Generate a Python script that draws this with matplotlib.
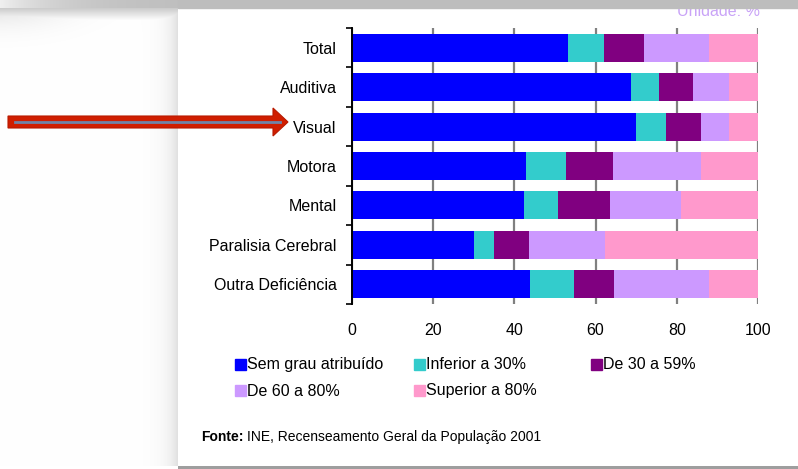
import numpy as np
import matplotlib
matplotlib.use("Agg")
import matplotlib.pyplot as plt
from matplotlib.patches import Rectangle, Polygon

plt.rcParams['font.family'] = ['Liberation Sans', 'DejaVu Sans']

categories = ["Total", "Auditiva", "Visual", "Motora", "Mental",
              "Paralisia Cerebral", "Outra Deficiência"]
series_names = ["Sem grau atribuído", "Inferior a 30%", "De 30 a 59%",
                "De 60 a 80%", "Superior a 80%"]
sem_grau = [53.3, 68.6, 70.0, 42.9, 42.4, 30.1, 43.9]
inferior_30 = [8.8, 6.9, 7.4, 9.9, 8.4, 4.9, 10.9]
de_30_59 = [9.9, 8.4, 8.5, 11.4, 12.8, 8.5, 9.8]
de_60_80 = [15.9, 9.0, 7.0, 21.7, 17.4, 18.7, 23.3]
superior_80 = [12.1, 7.1, 7.1, 14.1, 19.0, 37.8, 12.1]
colors = ["#0000ff", "#33cccc", "#800080", "#cc99ff", "#ff99cc"]
xticks = [0, 20, 40, 60, 80, 100]

W, H = 798, 469
fig = plt.figure(figsize=(W / 100, H / 100), dpi=100)

# background: screenshot frame (pixel coordinates)
bg = fig.add_axes([0, 0, 1, 1], zorder=0)
bg.set_xlim(0, W)
bg.set_ylim(H, 0)
bg.axis("off")
xx, yy = np.meshgrid(np.arange(W), np.arange(H))
img = np.ones((H, W))
left = xx < 178
img[left] = 1 - 0.13 * np.exp(-(178 - xx[left]) / 10.0)
corner = np.exp(-((xx / 70.0) ** 2 + ((yy + 10) / 30.0) ** 2))
img = img - 0.15 * corner * (xx < 178)
top = yy < 8
img[top] = 0.74 + 0.2 * np.exp(-xx[top] / 60.0)
shade = (yy >= 8) & (yy < 20) & (xx < 178)
img[shade] = np.minimum(img[shade], 0.80 + 0.2 * (yy[shade] - 8) / 12.0)
img[yy >= 466] = 0.62
img[(yy >= 466) & (xx < 178)] = 1.0
bg.imshow(np.dstack([img] * 3), extent=(0, W, H, 0), aspect="auto",
          interpolation="bilinear", zorder=0)

# unit label, partly under the top strip
bg.text(760, 16, "Unidade: %", ha="right", va="baseline", fontsize=11.5,
        color="#c9a3f7", zorder=1)
bg.add_patch(Rectangle((178, 0), W - 178, 8, color="#bdbdbd", zorder=2))

# red arrow pointing at "Visual"
bg.add_patch(Polygon([(8, 116), (273, 116), (273, 108), (288, 122),
                      (273, 136), (273, 128), (8, 128)], closed=True,
                     facecolor="#d01e00", edgecolor="#b81a00", lw=0.8, zorder=3))
bg.plot([15, 280], [122, 122], color="#7084a8", lw=2, zorder=4)

# main chart
ax = fig.add_axes([352 / W, 1 - 304 / H, 406 / W, 276 / H], zorder=1)
ax.set_facecolor("none")
y = np.arange(len(categories))
data = [sem_grau, inferior_30, de_30_59, de_60_80, superior_80]
left_acc = np.zeros(len(categories))
for vals, name, c in zip(data, series_names, colors):
    ax.barh(y, vals, left=left_acc, height=0.71, color=c, label=name, zorder=2)
    left_acc += np.array(vals)

ax.set_xlim(0, 100)
ax.set_ylim(len(categories) - 0.5, -0.5)
ax.set_xticks(xticks)
ax.set_xticklabels([str(t) for t in xticks], fontsize=11.5)
ax.set_yticks(y)
ax.set_yticklabels(categories, fontsize=11.5)
ax.set_yticks(np.arange(len(categories) + 1) - 0.5, minor=True)
ax.tick_params(axis="y", which="major", length=0, pad=11)
ax.tick_params(axis="y", which="minor", length=4, width=1.2, color="black",
               direction="out")
ax.tick_params(axis="x", length=0, pad=14)
ax.grid(axis="x", color="#808080", lw=1.6, zorder=1)
ax.set_axisbelow(True)
for s in ["top", "right", "bottom"]:
    ax.spines[s].set_visible(False)
ax.spines["left"].set_linewidth(1.4)

# legend drawn below the chart
leg_x = [235, 414, 591, 235, 414]
leg_y = [364.5, 364.5, 364.5, 391, 391]
for name, c, lx, ly in zip(series_names, colors, leg_x, leg_y):
    bg.add_patch(Rectangle((lx, ly - 5.5), 11, 11, color=c, zorder=3))
    bg.text(lx + 12, ly, name, fontsize=11.5, va="center", ha="left", zorder=3)

bg.text(201, 437, "Fonte:", fontsize=10, fontweight="bold", va="center", zorder=3)
bg.text(247, 437, "INE, Recenseamento Geral da População 2001", fontsize=10,
        va="center", zorder=3)

fig.savefig("out.png", dpi=100)
